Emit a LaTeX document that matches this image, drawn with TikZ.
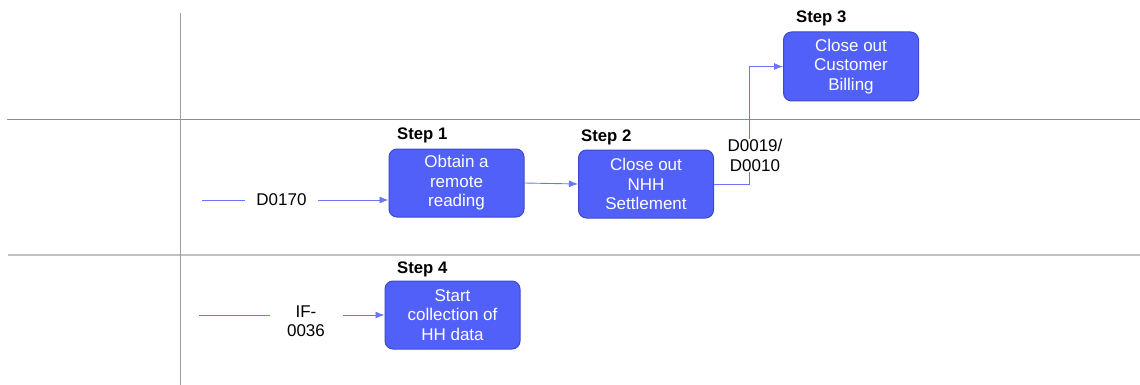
\documentclass[tikz,border=0pt]{standalone}
\usepackage{fontspec}
\setmainfont{Liberation Sans}
\usetikzlibrary{arrows.meta}
\definecolor{boxfill}{RGB}{82,96,250}
\definecolor{boxline}{RGB}{60,72,205}
\definecolor{arrcol}{RGB}{105,118,245}
\definecolor{rulecol}{RGB}{140,140,140}
\definecolor{rulelight}{RGB}{192,192,192}
\tikzset{
  stepbox/.style={draw=boxline, fill=boxfill, line width=1pt, rounded corners=8pt,
    minimum width=135pt, minimum height=68pt, align=center, text=white, inner sep=2pt,
    font=\fontsize{17}{19.5}\selectfont},
  steplbl/.style={anchor=west, font=\bfseries\fontsize{16.7}{19}\selectfont, inner sep=0pt},
  flowlbl/.style={fill=white, align=center, minimum width=73pt, inner sep=1pt,
    font=\fontsize{17}{19.5}\selectfont},
  arr/.style={draw=arrcol, line width=0.9pt, -{Latex[length=9pt,width=7pt]}},
  lane/.style={line width=1.1pt}
}
\begin{document}
\begin{tikzpicture}[x=1pt,y=-1pt]
\useasboundingbox (0,0) rectangle (1140,385);
% lanes
\coordinate (v1) at (180.5,13);
\coordinate (v2) at (180.5,385);
\coordinate (h1a) at (7,119.5);
\coordinate (h1b) at (1140,119.5);
\coordinate (h2a) at (8,255);
\coordinate (h2b) at (1140,255);
\draw[lane, draw=rulecol] (h1a) -- (h1b);
\draw[lane, draw=rulelight, line width=1.6pt] (h2a) -- (h2b);
\draw[lane, draw=rulecol!85] (v1) -- (v2);
% boxes
\node[stepbox] (s1) at (456.5,183) {Obtain a\\remote\\reading};
\node[stepbox] (s2) at (646,184) {Close out\\NHH\\Settlement};
\node[stepbox, minimum height=69pt] (s3) at (851,66.5) {Close out\\Customer\\Billing};
\node[stepbox] (s4) at (452.5,315) {Start\\collection of\\HH data};
% step labels
\node[steplbl] (l1) at (397,135) {Step 1};
\node[steplbl] (l2) at (581,137) {Step 2};
\node[steplbl] (l3) at (796,18) {Step 3};
\node[steplbl] (l4) at (397,269) {Step 4};
% connectors
\coordinate (a1) at (202,200);
\draw[arr] (a1) -- (a1 -| s1.west);
\node[flowlbl] (t1) at (281.5,200) {D0170};
\draw[arr] (s1.east) -- (s2.west);
\coordinate (c3) at (749,66.5);
\draw[arr] (s2.east) -| (c3) -- (s3.west);
\node[flowlbl, minimum width=58pt] (t3) at (755,155.5) {D0019/\\D0010};
\coordinate (a4) at (199,315);
\draw[arr] (a4) -- (a4 -| s4.west);
\node[flowlbl] (t4) at (306,321) {IF-\\0036};
\end{tikzpicture}
\end{document}
